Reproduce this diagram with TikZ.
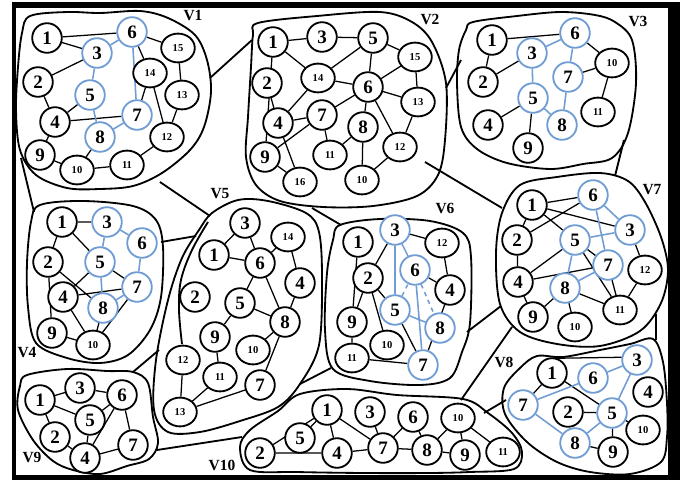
\documentclass[tikz,border=0pt]{standalone}
\usepackage{fontspec}
\setmainfont{Liberation Serif}
\usetikzlibrary{shapes.geometric,backgrounds}
\definecolor{setblue}{RGB}{112,156,212}

\begin{document}
\begin{tikzpicture}[x=0.025cm, y=-0.025cm,
  vtx/.style={draw, circle, line width=1.3pt, fill=white, inner sep=0pt, minimum size=0.74cm, font=\fontsize{13.5}{14}\selectfont\bfseries},
  vtxs/.style={draw, ellipse, line width=1.3pt, fill=white, inner sep=0pt, minimum width=0.84cm, minimum height=0.72cm, font=\fontsize{7.5}{8}\selectfont\bfseries},
  blu/.style={draw=setblue},
  lnk/.style={line width=0.9pt},
  blnk/.style={line width=1.1pt, draw=setblue},
  blob/.style={line width=1.3pt, line join=round},
  setlbl/.style={font=\fontsize{11}{12}\selectfont\bfseries, inner sep=0pt}]
\useasboundingbox (0,0) rectangle (680,480);
\begin{scope}[on background layer]
\fill[black] (12,2) rectangle (680,480);
\fill[white] (16,8) rectangle (668,475);
\end{scope}

\node[vtx] (a1) at (47,38) {1};
\node[vtx,blu] (a6) at (132,32) {6};
\node[vtx,blu] (a3) at (97,53) {3};
\node[vtxs] (a15) at (178,48) {15};
\node[vtxs] (a14) at (150,73) {14};
\node[vtx] (a2) at (38,82) {2};
\node[vtx,blu] (a5) at (90,95) {5};
\node[vtxs] (a13) at (182,95) {13};
\node[vtx] (a4) at (55,122) {4};
\node[vtx,blu] (a7) at (137,115) {7};
\node[vtx,blu] (a8) at (100,137) {8};
\node[vtxs] (a12) at (167,137) {12};
\node[vtx] (a9) at (40,155) {9};
\node[vtxs] (a10) at (77,170) {10};
\node[vtxs] (a11) at (127,165) {11};
\node[setlbl] (l1) at (193,16) {V1};

\node[vtx] (b1) at (273,42) {1};
\node[vtx] (b3) at (322,37) {3};
\node[vtx] (b5) at (373,38) {5};
\node[vtxs] (b15) at (415,57) {15};
\node[vtx] (b2) at (267,83) {2};
\node[vtxs] (b14) at (318,78) {14};
\node[vtx] (b6) at (368,87) {6};
\node[vtxs] (b13) at (418,102) {13};
\node[vtx] (b4) at (278,123) {4};
\node[vtx] (b7) at (322,115) {7};
\node[vtx] (b8) at (363,127) {8};
\node[vtxs] (b12) at (400,147) {12};
\node[vtx] (b9) at (265,157) {9};
\node[vtxs] (b11) at (330,155) {11};
\node[vtxs] (b16) at (300,182) {16};
\node[vtxs] (b10) at (362,180) {10};
\node[setlbl] (l2) at (430,19) {V2};

\node[vtx] (c1) at (492,40) {1};
\node[vtx,blu] (c6) at (575,33) {6};
\node[vtx,blu] (c3) at (532,53) {3};
\node[vtxs] (c10) at (612,63) {10};
\node[vtx] (c2) at (483,82) {2};
\node[vtx,blu] (c7) at (568,77) {7};
\node[vtx,blu] (c5) at (533,98) {5};
\node[vtxs] (c11) at (598,112) {11};
\node[vtx] (c4) at (488,125) {4};
\node[vtx,blu] (c8) at (562,125) {8};
\node[vtx] (c9) at (528,148) {9};
\node[setlbl] (l3) at (638,21) {V3};

\node[vtx] (d1) at (62,222) {1};
\node[vtx,blu] (d3) at (107,222) {3};
\node[vtx,blu] (d6) at (142,243) {6};
\node[vtx] (d2) at (48,262) {2};
\node[vtx,blu] (d5) at (100,262) {5};
\node[vtx,blu] (d7) at (137,287) {7};
\node[vtx] (d4) at (63,297) {4};
\node[vtx,blu] (d8) at (103,308) {8};
\node[vtx] (d9) at (52,333) {9};
\node[vtxs] (d10) at (93,345) {10};
\node[setlbl] (l4) at (27,353) {V4};

\node[vtx] (e3) at (245,223) {3};
\node[vtxs] (e14) at (288,237) {14};
\node[vtx] (e1) at (214,255) {1};
\node[vtx] (e6) at (260,263) {6};
\node[vtx] (e4) at (300,283) {4};
\node[vtx] (e2) at (195,297) {2};
\node[vtx] (e5) at (240,303) {5};
\node[vtx] (e8) at (285,322) {8};
\node[vtx] (e9) at (215,337) {9};
\node[vtxs] (e10) at (253,350) {10};
\node[vtxs] (e12) at (183,360) {12};
\node[vtxs] (e11) at (220,377) {11};
\node[vtx] (e7) at (260,385) {7};
\node[vtxs] (e13) at (180,412) {13};
\node[setlbl] (l5) at (220,194) {V5};

\node[vtx,blu] (f3) at (395,230) {3};
\node[vtx] (f1) at (358,242) {1};
\node[vtxs] (f12) at (442,243) {12};
\node[vtx,blu] (f6) at (415,270) {6};
\node[vtx] (f2) at (368,278) {2};
\node[vtx] (f4) at (450,290) {4};
\node[vtx,blu] (f5) at (395,310) {5};
\node[vtx] (f9) at (352,322) {9};
\node[vtx,blu] (f8) at (440,328) {8};
\node[vtxs] (f10) at (387,345) {10};
\node[vtxs] (f11) at (352,358) {11};
\node[vtx,blu] (f7) at (423,365) {7};
\node[setlbl] (l6) at (445,208) {V6};

\node[vtx,blu] (g6) at (593,195) {6};
\node[vtx] (g1) at (532,205) {1};
\node[vtx,blu] (g3) at (630,230) {3};
\node[vtx] (g2) at (517,240) {2};
\node[vtx,blu] (g5) at (575,240) {5};
\node[vtx,blu] (g7) at (608,265) {7};
\node[vtxs] (g12) at (645,270) {12};
\node[vtx] (g4) at (518,282) {4};
\node[vtx,blu] (g8) at (565,288) {8};
\node[vtx] (g9) at (533,317) {9};
\node[vtxs] (g11) at (620,310) {11};
\node[vtxs] (g10) at (575,327) {10};
\node[setlbl] (l7) at (652,190) {V7};

\node[vtx] (h1) at (552,373) {1};
\node[vtx,blu] (h3) at (637,360) {3};
\node[vtx,blu] (h6) at (593,378) {6};
\node[vtx] (h4) at (648,392) {4};
\node[vtx,blu] (h7) at (523,405) {7};
\node[vtx] (h2) at (568,412) {2};
\node[vtx,blu] (h5) at (612,413) {5};
\node[vtxs] (h10) at (643,430) {10};
\node[vtx,blu] (h8) at (575,443) {8};
\node[vtx] (h9) at (613,452) {9};
\node[setlbl] (l8) at (504,362) {V8};

\node[vtx] (i3) at (80,388) {3};
\node[vtx] (i1) at (40,400) {1};
\node[vtx] (i6) at (122,395) {6};
\node[vtx] (i5) at (90,420) {5};
\node[vtx] (i2) at (55,437) {2};
\node[vtx] (i7) at (133,445) {7};
\node[vtx] (i4) at (85,458) {4};
\node[setlbl] (l9) at (32,457) {V9};

\node[vtx] (j1) at (327,410) {1};
\node[vtx] (j3) at (370,412) {3};
\node[vtx] (j6) at (413,417) {6};
\node[vtxs] (j10) at (458,418) {10};
\node[vtx] (j5) at (300,438) {5};
\node[vtx] (j2) at (260,453) {2};
\node[vtx] (j4) at (337,453) {4};
\node[vtx] (j7) at (383,448) {7};
\node[vtx] (j8) at (427,450) {8};
\node[vtx] (j9) at (465,455) {9};
\node[vtxs] (j11) at (503,452) {11};
\node[setlbl] (l10) at (222,465) {V10};

\coordinate (v1e2) at (210,78);
\coordinate (v2e1) at (252,40);
\coordinate (v1e5) at (160,182);
\coordinate (v5e1) at (210,216);
\coordinate (v1e4) at (21,158);
\coordinate (v4e1) at (34,212);
\coordinate (v4e5) at (161,242);
\coordinate (v5e4) at (196,236);
\coordinate (v2e3) at (446,88);
\coordinate (v3e2) at (461,60);
\coordinate (v2e7) at (425,162);
\coordinate (v7e2) at (502,208);
\coordinate (v3e7) at (624,140);
\coordinate (v7e3) at (615,176);
\coordinate (v5e6) at (312,208);
\coordinate (v6e5) at (341,225);
\coordinate (v5f6) at (300,384);
\coordinate (v6f5) at (331,368);
\coordinate (v6e7) at (467,332);
\coordinate (v7e6) at (501,306);
\coordinate (v7e10) at (512,327);
\coordinate (v10e7) at (461,400);
\coordinate (v10e8) at (484,413);
\coordinate (v8e10) at (506,400);
\coordinate (v7e8) at (656,314);
\coordinate (v8e7) at (656,340);
\coordinate (v9e10) at (157,450);
\coordinate (v10e9) at (242,437);
\coordinate (v5e9) at (159,350);
\coordinate (v9e5) at (133,372);

\begin{scope}[on background layer]
\draw[blob] plot[smooth cycle, tension=0.55] coordinates {(30,16) (67,12) (100,13) (140,11) (168,18) (195,35) (207,60) (211,92) (204,127) (190,150) (162,173) (133,186) (100,189) (67,188) (36,175) (20,150) (16,110) (18,67) (22,33)};
\draw[blob] plot[smooth cycle, tension=0.55] coordinates {(258,23) (317,16) (380,12) (412,22) (432,42) (446,83) (445,140) (438,175) (417,196) (373,206) (323,207) (280,201) (256,185) (246,157) (248,117) (251,67) (253,35)};
\draw[blob] plot[smooth cycle, tension=0.55] coordinates {(473,22) (517,16) (560,12) (595,15) (615,22) (632,40) (636,83) (628,133) (612,158) (583,164) (550,169) (507,163) (477,149) (461,127) (457,83) (459,50) (466,30)};
\draw[blob] plot[smooth cycle, tension=0.55] coordinates {(40,205) (83,201) (133,206) (156,220) (163,247) (161,297) (150,330) (128,355) (100,363) (67,358) (36,343) (28,307) (27,263) (31,222)};
\draw[blob] plot[smooth cycle, tension=0.55] coordinates {(212,213) (238,200) (268,201) (306,213) (319,232) (322,278) (319,345) (300,384) (278,407) (240,421) (200,432) (168,432) (154,410) (156,360) (168,300) (182,258) (199,230)};
\draw[blob] plot[smooth, tension=0.6] coordinates {(208,222) (192,250) (181,280) (179,310) (182,344)};
\draw[blob] plot[smooth cycle, tension=0.55] coordinates {(340,225) (380,219) (430,221) (463,233) (471,257) (470,323) (462,352) (450,378) (420,385) (370,381) (333,369) (325,330) (327,273) (333,240)};
\draw[blob] plot[smooth cycle, tension=0.55] coordinates {(520,185) (557,177) (600,173) (628,181) (645,202) (661,237) (668,270) (661,303) (640,331) (600,346) (557,344) (520,332) (500,304) (496,253) (502,213)};
\draw[blob] plot[smooth cycle, tension=0.55] coordinates {(537,356) (563,357) (600,350) (630,344) (653,339) (663,362) (667,403) (667,437) (661,462) (630,474) (590,472) (557,462) (527,442) (505,414) (504,388) (520,368)};
\draw[blob] plot[smooth cycle, tension=0.55] coordinates {(27,375) (67,369) (107,371) (133,372) (148,383) (153,417) (158,443) (149,459) (127,466) (100,474) (73,470) (53,461) (33,440) (18,410) (20,386)};
\draw[blob] plot[smooth cycle, tension=0.55] coordinates {(300,394) (347,389) (397,395) (463,399) (488,413) (512,433) (522,452) (514,469) (470,472) (430,473) (363,473) (297,472) (250,470) (240,447) (250,430) (278,411)};

\draw[blob] (v1e2) -- (v2e1) (v1e5) -- (v5e1) (v1e4) -- (v4e1) (v4e5) -- (v5e4) (v2e3) -- (v3e2) (v2e7) -- (v7e2) (v3e7) -- (v7e3) (v5e6) -- (v6e5) (v5f6) -- (v6f5) (v6e7) -- (v7e6) (v7e10) -- (v10e7) (v10e8) -- (v8e10) (v7e8) -- (v8e7) (v9e10) -- (v10e9) (v5e9) -- (v9e5);

\draw[lnk] (a1) -- (a3) (a1) -- (a6) (a3) -- (a2) (a5) -- (a4) (a4) -- (a7) (a7) -- (a14) (a6) -- (a14) (a6) -- (a15) (a15) -- (a13) (a14) -- (a12) (a13) -- (a12) (a4) -- (a9) (a9) -- (a10) (a8) -- (a10) (a10) -- (a11) (a11) -- (a12) (a2) -- (a4);
\draw[blnk] (a3) -- (a6) (a3) -- (a5) (a5) -- (a8) (a6) -- (a7) (a7) -- (a8);

\draw[lnk] (b1) -- (b3) (b3) -- (b5) (b1) -- (b14) (b1) -- (b9) (b5) -- (b14) (b5) -- (b6) (b5) -- (b15) (b14) -- (b6) (b6) -- (b15) (b6) -- (b13) (b6) -- (b12) (b6) -- (b8) (b6) -- (b7) (b14) -- (b4) (b2) -- (b4) (b4) -- (b7) (b4) -- (b16) (b7) -- (b9) (b7) -- (b11) (b8) -- (b11) (b8) -- (b10) (b10) -- (b12) (b12) -- (b13) (b13) -- (b15) (b9) -- (b16);

\draw[lnk] (c1) -- (c6) (c1) -- (c2) (c2) -- (c3) (c5) -- (c4) (c5) -- (c9) (c6) -- (c10) (c7) -- (c10) (c10) -- (c11);
\draw[blnk] (c3) -- (c6) (c3) -- (c5) (c6) -- (c7) (c7) -- (c8) (c5) -- (c8);

\draw[lnk] (d1) -- (d3) (d1) -- (d5) (d1) -- (d2) (d2) -- (d9) (d2) -- (d8) (d4) -- (d5) (d4) -- (d7) (d4) -- (d10) (d9) -- (d10) (d8) -- (d10) (d7) -- (d10) (d5) -- (d7);
\draw[blnk] (d3) -- (d5) (d3) -- (d6) (d6) -- (d7) (d5) -- (d8) (d7) -- (d8);

\draw[lnk] (e1) -- (e3) (e3) -- (e6) (e1) -- (e6) (e6) -- (e14) (e6) -- (e5) (e6) -- (e8) (e14) -- (e4) (e4) -- (e8) (e5) -- (e8) (e5) -- (e9) (e8) -- (e10) (e8) -- (e7) (e9) -- (e11) (e11) -- (e13) (e7) -- (e13) (e12) -- (e13);

\draw[lnk] (f3) -- (f2) (f3) -- (f12) (f6) -- (f4) (f2) -- (f5) (f2) -- (f9) (f2) -- (f10) (f9) -- (f11) (f11) -- (f7) (f5) -- (f7) (f12) -- (f4) (f4) -- (f7) (f1) -- (f9);
\draw[blnk] (f3) -- (f5) (f3) -- (f6) (f6) -- (f7) (f5) -- (f8);
\draw[blnk, dashed] (f6) -- (f8) (f5) -- (f6);

\draw[lnk] (g1) -- (g6) (g1) -- (g3) (g1) -- (g5) (g2) -- (g6) (g4) -- (g5) (g4) -- (g7) (g4) -- (g9) (g8) -- (g9) (g8) -- (g10) (g8) -- (g11) (g5) -- (g11) (g7) -- (g11) (g3) -- (g12) (g12) -- (g11) (g5) -- (g7) (g1) -- (g2) (g2) -- (g4);
\draw[blnk] (g6) -- (g3) (g6) -- (g7) (g5) -- (g3) (g5) -- (g8) (g7) -- (g8);

\draw[lnk] (h1) -- (h7) (h1.70) -- (h3.170) (h1) -- (h5) (h2) -- (h5) (h5) -- (h9) (h8) -- (h9) (h5) -- (h10);
\draw[blnk] (h7) -- (h6) (h6) -- (h3) (h3) -- (h5) (h7) -- (h8) (h8) -- (h5);

\draw[lnk] (i1) -- (i3) (i3) -- (i6) (i1) -- (i5) (i5) -- (i6) (i1) -- (i2) (i2) -- (i4) (i5) -- (i4) (i6) -- (i4) (i6) -- (i7) (i4) -- (i7);

\draw[lnk] (j1) -- (j5) (j1) -- (j4) (j1) -- (j7) (j1) -- (j2) (j2) -- (j4) (j4) -- (j7) (j3) -- (j7) (j6) -- (j7) (j7) -- (j8) (j6) -- (j8) (j8) -- (j10) (j10) -- (j9) (j8) -- (j9) (j10) -- (j11);
\end{scope}
\end{tikzpicture}
\end{document}
